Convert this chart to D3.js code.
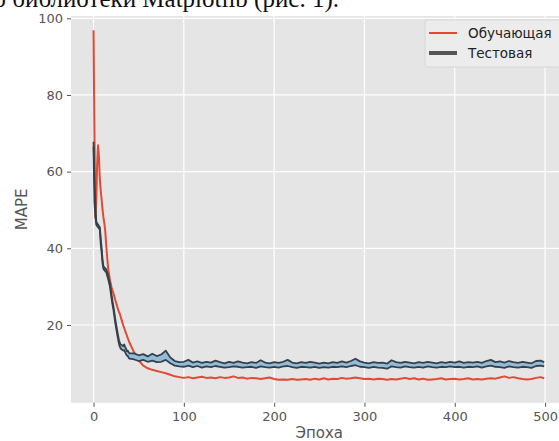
<!DOCTYPE html>
<html><head><meta charset="utf-8">
<script src="https://cdn.jsdelivr.net/npm/d3@7"></script>
<style>html,body{margin:0;padding:0;background:#fff;overflow:hidden}</style>
</head><body>
<svg id="c" width="559" height="441"></svg>
<script>
// ---- data ----
const epochs = d3.range(0, 41).concat(d3.range(45, 500, 5), [499]);
const trainMAPE = [
 96.9,70,48,52,62,66.9,64,58,55,52.6,50,48,46.5,44.5,41,38,35.2,33.5,32,30.8,
 29.8,29,28.3,27.5,26.6,25.8,25,24.2,23.5,23,22.2,21.4,20.6,19.8,19.2,18.5,17.8,17.2,16.5,15.9,15.3,
 12.8,10.8,9.4,8.7,8.3,8.0,7.7,7.4,7.0,6.6,6.4,6.2,6.4,6.1,6.3,6.5,6.2,6.3,6.1,6.4,
 6.2,6.3,6.6,6.2,6.3,6.0,6.2,6.1,5.9,6.1,6.3,5.9,5.7,5.8,5.7,5.9,5.7,5.8,5.9,5.7,
 6.0,5.8,6.1,5.8,6.0,5.9,6.2,6.0,6.1,6.3,6.1,5.9,6.0,5.8,6.0,5.9,5.7,5.9,5.8,6.0,
 6.2,5.9,6.1,5.8,6.0,5.7,5.8,5.9,6.1,5.8,5.9,6.0,5.8,5.9,6.1,5.8,5.9,5.8,6.0,6.1,
 6.0,6.3,6.6,6.2,6.4,6.1,5.9,5.8,5.9,6.2,6.4,6.1];
const testHigh = [
 67.8,58,52,47,46.5,46.2,45.8,45.5,42.5,40,37,35.3,35,34.8,34.5,33.8,33,32,31,29.5,
 27.8,26.2,24.9,23.3,21.6,20.2,18.8,17.5,16.3,15.4,14.9,14.8,14.6,14.5,14.9,14.3,13.8,13.2,13.3,12.8,12.6,
 12.6,12.1,12.4,11.8,12.5,11.9,12.3,13.3,11.5,10.6,10.3,10.4,10.9,10.2,10.5,10.1,10.4,10.2,10.7,10.3,
 10.0,10.4,10.1,10.5,10.2,10.0,10.3,10.1,10.8,10.2,10.0,10.3,10.1,10.4,10.9,10.2,10.0,10.3,10.1,10.4,
 10.2,9.9,10.2,10.0,10.3,10.1,10.5,10.2,10.6,11.2,10.5,10.2,10.0,10.3,10.1,10.2,9.9,10.8,10.3,10.1,
 10.4,10.2,10.0,10.3,10.1,10.4,10.2,10.0,10.3,10.1,10.4,10.2,10.5,10.1,10.3,10.2,10.4,10.1,10.6,10.9,
 10.3,10.5,10.2,10.6,10.3,10.1,10.4,10.2,10.0,10.6,10.7,10.3];
const testLow = [
 66.5,52,48.5,46.2,45.8,45.5,45.2,44.8,41,38.8,36,34.6,34.3,34,33.8,33,32.2,31.2,30.2,28.6,
 26.9,25.3,24,22.4,20.7,19.2,17.9,16.5,15.3,14.4,13.9,13.6,13.5,13.3,13.4,12.9,12.4,12.0,11.9,11.4,11.2,
 11.0,10.6,10.9,10.4,10.7,10.3,10.4,10.9,10.0,9.4,9.2,9.1,9.4,9.0,9.3,8.9,9.2,9.0,9.3,9.1,
 8.9,9.0,9.2,9.1,8.9,9.0,9.1,8.8,9.2,9.0,8.9,9.1,8.9,9.2,9.3,9.0,8.8,9.1,9.0,8.9,
 9.1,8.8,9.0,8.9,9.1,9.0,9.2,9.0,9.3,9.5,9.1,9.0,8.8,9.1,8.9,8.8,8.6,9.2,9.0,8.9,
 9.2,9.0,8.9,9.1,8.9,9.2,9.0,8.9,9.1,9.0,9.2,9.0,9.1,8.9,9.1,9.0,9.2,8.9,9.2,9.4,
 9.1,9.0,8.8,9.2,9.0,8.9,9.1,9.0,8.8,9.3,9.4,9.2];
const xTicks = [0, 100, 200, 300, 400, 500];
const yTicks = [20, 40, 60, 80, 100];
const seriesNames = ["Обучающая", "Тестовая"];
const topText = "с помощью библиотеки Matplotlib (рис. 1).";
const xLabel = "Эпоха", yLabel = "MAPE";

// ---- layout ----
const L = 71, T = 16, R = 566.7, B = 402.8;
const svg = d3.select("#c");
const x = d3.scaleLinear().domain([-24.95, 523.95]).range([L, R]);
const y = d3.scaleLinear().domain([-0.3, 100.6]).range([B, T]);

// top cut-off document text
svg.append("text").attr("x", 339).attr("y", 7).attr("text-anchor", "end")
  .attr("font-family", "Liberation Serif, Times New Roman, serif").attr("font-size", 25)
  .attr("fill", "#111").text(topText);

svg.append("rect").attr("x", L).attr("y", T).attr("width", R - L).attr("height", B - T).attr("fill", "#e5e5e5");

const grid = svg.append("g").attr("stroke", "#fff").attr("stroke-width", 1.2);
xTicks.forEach(t => grid.append("line").attr("x1", x(t)).attr("x2", x(t)).attr("y1", T).attr("y2", B));
yTicks.forEach(t => grid.append("line").attr("x1", L).attr("x2", R).attr("y1", y(t)).attr("y2", y(t)));

const xAxis = svg.append("g").attr("transform", `translate(0,${B})`)
  .call(d3.axisBottom(x).tickValues(xTicks).tickSize(4).tickPadding(5));
const yAxis = svg.append("g").attr("transform", `translate(${L},0)`)
  .call(d3.axisLeft(y).tickValues(yTicks).tickSize(4).tickPadding(4));
[xAxis, yAxis].forEach(a => {
  a.select(".domain").remove();
  a.selectAll("line").attr("stroke", "#555").attr("stroke-width", 1);
  a.selectAll("text").attr("fill", "#555").attr("font-size", 13).attr("font-family", "DejaVu Sans, sans-serif");
});

svg.append("text").attr("x", x(250)).attr("y", 438).attr("text-anchor", "middle")
  .attr("fill", "#555").attr("font-size", 15).attr("font-family", "DejaVu Sans, sans-serif").text(xLabel);
svg.append("text").attr("transform", `translate(27,${(T + B) / 2}) rotate(-90)`).attr("text-anchor", "middle")
  .attr("fill", "#555").attr("font-size", 15).attr("font-family", "DejaVu Sans, sans-serif").text(yLabel);

const trainData = epochs.map((e, i) => [e, trainMAPE[i]]);
const testData = epochs.map((e, i) => [e, testLow[i], testHigh[i]]);

const plot = svg.append("g");
plot.append("path").datum(trainData).attr("fill", "none").attr("stroke", "#E24A33").attr("stroke-width", 2)
  .attr("stroke-linejoin", "round")
  .attr("d", d3.line().x(d => x(d[0])).y(d => y(d[1])));
plot.append("path").datum(testData).attr("fill", "#93bcd9")
  .attr("d", d3.area().x(d => x(d[0])).y0(d => y(d[1])).y1(d => y(d[2])));
[1, 2].forEach(k => plot.append("path").datum(testData).attr("fill", "none")
  .attr("stroke", "#34404a").attr("stroke-width", 1.8).attr("stroke-linejoin", "round")
  .attr("d", d3.line().x(d => x(d[0])).y(d => y(d[k]))));

// legend
const lg = svg.append("g").attr("transform", "translate(425,20)");
lg.append("rect").attr("width", 140).attr("height", 47).attr("rx", 3)
  .attr("fill", "#ececec").attr("stroke", "#d6d6d6");
const colors = ["#E24A33", "#555"], widths = [2, 4];
seriesNames.forEach((n, i) => {
  const yy = 13 + i * 20;
  lg.append("line").attr("x1", 4).attr("x2", 32).attr("y1", yy).attr("y2", yy)
    .attr("stroke", colors[i]).attr("stroke-width", widths[i]);
  lg.append("text").attr("x", 43).attr("y", yy).attr("dy", "0.35em").attr("fill", "#222")
    .attr("font-size", 13.5).attr("font-family", "DejaVu Sans, sans-serif").text(n);
});
</script>
</body></html>
